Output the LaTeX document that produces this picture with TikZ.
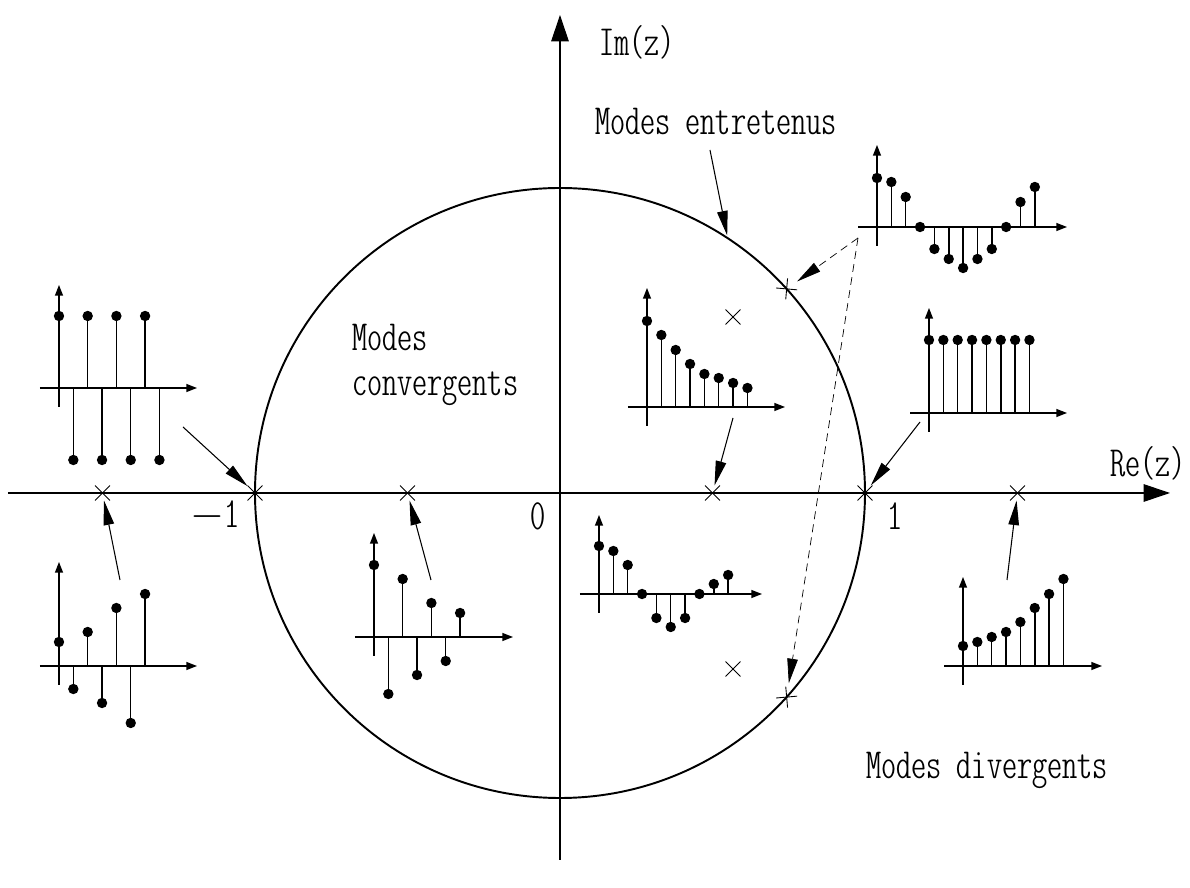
\documentclass[tikz,border=0pt]{standalone}
\usepackage{tikz}
\usetikzlibrary{arrows.meta,shapes.misc,positioning}

% diagramme en batonnets : #1 haut de l'axe, #2 bout de l'axe, #3 valeurs
\newcommand{\batonnets}[3]{%
  \draw[axeptit] (-19,0) -- (#2,0);
  \draw[axeptit] (0,-19) -- (0,#1);
  \foreach \v [count=\n from 0] in {#3}{
    \draw[tige] (\n*14.35,0) -- (\n*14.35,\v);
    \fill (\n*14.35,\v) circle[radius=5.2];
  }%
}

\begin{document}
\begin{tikzpicture}[x=0.02cm,y=0.02cm,
  axe/.style={line width=0.6pt,-{Triangle[length=15pt,width=10pt]}},
  axeptit/.style={line width=0.7pt,-{Triangle[length=6pt,width=4.5pt]}},
  tige/.style={line width=0.85pt},
  pole/.style={draw,cross out,line width=0.5pt,minimum size=8pt,inner sep=0pt},
  fleche/.style={line width=0.6pt,-{Triangle[length=14pt,width=6pt]}},
  pointille/.style={fleche,line width=0.4pt,dash pattern=on 4.5pt off 3pt},
  texte/.style={font=\ttfamily\fontseries{lc}\fontsize{24.5}{26}\selectfont}]
\useasboundingbox (-560,-395) rectangle (630,493);

%====================================================
% PLAN COMPLEXE
%====================================================
\coordinate (O) at (0,0);
\coordinate (reG) at (-552,0);
\coordinate (reD) at (610,0);
\coordinate (imB) at (0,-367);
\coordinate (imH) at (0,478);
\draw[axe] (reG) -- (reD);
\draw[axe] (imB) -- (imH);
\draw[line width=1.1pt] (O) circle[radius=305];

\node[texte] (im) at (77,451) {Im(z)};
\node[texte] (re) at (588,30) {Re(z)};
\node[texte] (moins) at (-345,-23) {$-$1};
\node[texte] (zero) at (-22,-23) {0};
\node[texte] (un) at (335,-23) {1};
\node[texte] (entr) at (156,372) {Modes entretenus};
\node[texte,align=left,anchor=west,inner sep=0pt] (conv) at (-208,128) {Modes\\convergents};
\node[texte] (div) at (427,-277) {Modes divergents};

% poles
\node[pole] (pA) at (-457.5,0) {};
\node[pole] (pB) at (-305,0) {};
\node[pole] (pC) at (-152.5,0) {};
\node[pole] (pD) at (152.5,0) {};
\node[pole] (pE) at (305,0) {};
\node[pole] (pF) at (457.5,0) {};
\node[pole] (pG) at (173,176) {};
\node[pole] (pH) at (173,-176) {};
\node[pole,rotate=-50] (pI) at (42:305) {};
\node[pole,rotate=50] (pJ) at (-42:305) {};

%====================================================
% REPONSES
%====================================================
\begin{scope}[shift={(-501,105)}]
\batonnets{103}{138}{72,-72,72,-72,72,-72,72,-72}
\end{scope}
\begin{scope}[shift={(-501,-173)}]
\batonnets{104}{138}{24,-23,34,-37,58,-57,72}
\end{scope}
\begin{scope}[shift={(-186,-144)}]
\batonnets{104}{139}{72,-57,58,-38,34,-24,24}
\end{scope}
\begin{scope}[shift={(39,-101)}]
\batonnets{79}{163}{48,43,29,0,-24,-33,-24,0,10,19}
\end{scope}
\begin{scope}[shift={(87,86)}]
\batonnets{119}{138}{86,72,57,43,33,29,24,19}
\end{scope}
\begin{scope}[shift={(317,266)}]
\batonnets{82}{190}{49,45,30,0,-22,-32,-41,-32,-22,0,25,40}
\end{scope}
\begin{scope}[shift={(369,80)}]
\batonnets{105}{138}{73,73,73,73,73,73,73,73}
\end{scope}
\begin{scope}[shift={(403,-173)}]
\batonnets{89}{139}{20,24,29,34,44,58,72,87}
\end{scope}

% fleches vers les poles
\coordinate (dA) at (-377,66);
\coordinate (dB) at (-440,-87);
\coordinate (dC) at (-129,-87);
\coordinate (dE) at (173,75);
\coordinate (dG) at (360,71);
\coordinate (dH) at (447,-87);
\coordinate (dEnt) at (150,343);
\coordinate (cercle) at (57:307);
\coordinate (dF) at (298,255);
\draw[fleche] (dA) -- (pB);
\draw[fleche] (dB) -- (pA);
\draw[fleche] (dC) -- (pC);
\draw[fleche] (dE) -- (pD);
\draw[fleche] (dG) -- (pE);
\draw[fleche] (dH) -- (pF);
\draw[fleche] (dEnt) -- (cercle);
\draw[pointille,shorten >=3pt] (dF) -- (pI);
\draw[pointille,shorten >=3pt] (dF) -- (pJ);
\end{tikzpicture}
\end{document}
